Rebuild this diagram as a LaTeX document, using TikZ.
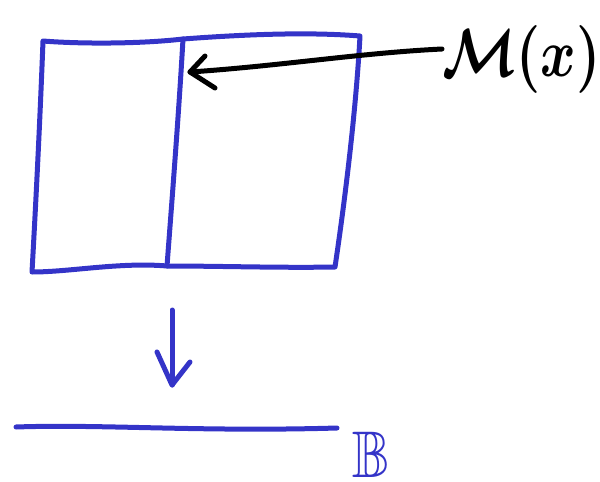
\documentclass[tikz,border=0pt]{standalone}
\usepackage{amssymb}
\usepackage{bm}
\usepackage{graphicx}
\definecolor{penblue}{RGB}{52,52,200}
\tikzset{
  ink/.style={line width=5pt, line cap=round, line join=round},
  blueink/.style={ink, draw=penblue},
  blackink/.style={ink, draw=black}
}
\begin{document}
\begin{tikzpicture}[x=1pt,y=-1pt]
  \useasboundingbox (0,0) rectangle (600,482);
  % corners of the sketched square
  \coordinate (tl) at (43,41);
  \coordinate (tr) at (360,36);
  \coordinate (br) at (335,267);
  \coordinate (bl) at (32,272);
  \coordinate (mt) at (183,39);
  \coordinate (mb) at (167,266);
  % the square, split in two
  \draw[blueink] (tl) .. controls (80,44) and (140,44) .. (mt)
                      .. controls (250,34) and (310,32) .. (tr)
                      .. controls (356,110) and (345,200) .. (br)
                      .. controls (280,268) and (220,266) .. (mb)
                      .. controls (120,262) and (70,272) .. (bl)
                      .. controls (36,200) and (40,120) .. cycle;
  \draw[blueink] (mt) .. controls (179,110) and (172,200) .. (mb);
  % label and pointer to the dividing line
  \node[anchor=west, inner sep=0pt] (M) at (442,59)
    {\scalebox{5.4}[6.8]{$\bm{\mathcal{M}(x)}$}};
  \coordinate (tip) at (190,72);
  \draw[blackink] ([yshift=10pt]M.west) .. controls (360,53) and (280,66) .. (tip);
  \draw[blackink] (205,56) -- (tip) -- (215,88);
  % projection arrow
  \coordinate (dtop) at (172,310);
  \coordinate (dtip) at (172,385);
  \draw[blueink] (dtop) -- (dtip);
  \draw[blueink] (157,352) -- (dtip) -- (190,362);
  % base line and its label
  \coordinate (bl0) at (16,427);
  \coordinate (bl1) at (337,428);
  \draw[blueink] (bl0) .. controls (100,424) and (200,432) .. (bl1);
  \node[text=penblue, anchor=west, inner sep=0pt] (B) at (352,455)
    {\scalebox{5.6}[6.6]{$\mathbb{B}$}};
\end{tikzpicture}
\end{document}
